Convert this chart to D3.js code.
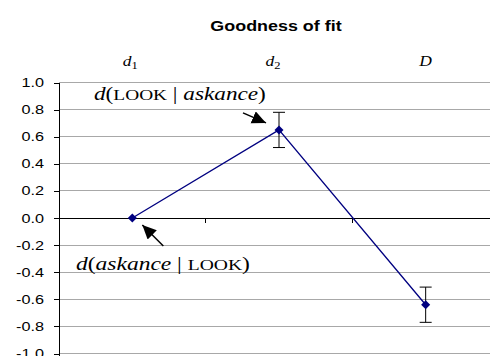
<!DOCTYPE html>
<html><head><meta charset="utf-8">
<script src="https://cdn.jsdelivr.net/npm/d3@7"></script>
<style>html,body{margin:0;padding:0;background:#fff;}svg{display:block;}</style>
</head><body>
<svg id="c" width="490" height="356"></svg>
<script>
const categories = ["d1", "d2", "D"];
const values = [0.0, 0.65, -0.64];
const errors = [0, 0.13, 0.13];
const yTicks = [-1.0, -0.8, -0.6, -0.4, -0.2, 0.0, 0.2, 0.4, 0.6, 0.8, 1.0];
const yTickLabels = ["-1.0", "-0.8", "-0.6", "-0.4", "-0.2", "0.0", "0.2", "0.4", "0.6", "0.8", "1.0"];
const title = "Goodness of fit";

(function () {
const W = 490, H = 356;
const svg = d3.select("#c");
const pLeft = 59, pRight = 499, pTop = 82.5, pBottom = 353.5;
const x = d3.scaleBand().domain(categories).range([pLeft, pRight]).paddingInner(0).paddingOuter(0);
const y = d3.scaleLinear().domain([-1, 1]).range([pBottom, pTop]);
const cx = c => x(c) + x.bandwidth() / 2;
const SX = 1.3;

function stext(parent, px, py, anchor, scale) {
  const g = parent.append("g").attr("transform", `translate(${px},${py})`);
  return g.append("text").attr("text-anchor", anchor).attr("transform", `scale(${scale},1)`);
}
function fitWidth(t, target) {
  const w = t.node().getBBox().width;
  t.attr("transform", `scale(${target / w},1)`);
}

// gridlines
svg.append("g").selectAll("line").data(yTicks.filter(v => v !== 0)).join("line")
  .attr("x1", pLeft).attr("x2", W).attr("y1", d => y(d)).attr("y2", d => y(d))
  .attr("stroke", "#a8a8a8").attr("stroke-width", 1).attr("shape-rendering", "crispEdges");

// y axis
const yAxis = d3.axisLeft(y).tickValues(yTicks).tickSize(5).tickSizeOuter(0).tickFormat("");
const ya = svg.append("g").attr("transform", `translate(${pLeft},0)`).call(yAxis);
ya.select(".domain").attr("stroke", "#000").attr("d", `M0,${pTop}V${H}`);
ya.selectAll(".tick line").attr("stroke", "#000");
ya.attr("shape-rendering", "crispEdges");
yTicks.forEach((v, i) => {
  stext(svg, 44, y(v) + 4.5, "end", SX)
    .attr("font-family", "Liberation Sans, Arial, sans-serif").attr("font-size", 12.5)
    .attr("fill", "#000").text(yTickLabels[i]);
});

// zero line with category ticks
svg.append("line").attr("x1", pLeft).attr("x2", W).attr("y1", y(0)).attr("y2", y(0))
  .attr("stroke", "#000").attr("stroke-width", 1).attr("shape-rendering", "crispEdges");
svg.append("g").selectAll("line").data(categories.slice(1)).join("line")
  .attr("x1", d => x(d)).attr("x2", d => x(d)).attr("y1", y(0)).attr("y2", y(0) + 5)
  .attr("stroke", "#000").attr("shape-rendering", "crispEdges");

// title
stext(svg, 276, 31, "middle", 1.28)
  .attr("font-family", "Liberation Sans, Arial, sans-serif").attr("font-size", 14)
  .attr("font-weight", "bold").text(title);

// category labels at top
const catDx = [-2, -6, 0];
categories.forEach((c, i) => {
  const t = stext(svg, cx(c) + catDx[i], 66, "middle", 1.25)
    .attr("font-family", "Liberation Serif, Times New Roman, serif").attr("font-size", 14);
  t.append("tspan").attr("font-style", "italic").text(c[0]);
  if (c.length > 1) t.append("tspan").attr("font-size", 10).attr("dy", 3).text(c.slice(1));
});

// error bars
const eb = svg.append("g").attr("stroke", "#000").attr("stroke-width", 1);
categories.forEach((c, i) => {
  if (!errors[i]) return;
  const X = cx(c), y1 = y(values[i] + errors[i]), y2 = y(values[i] - errors[i]);
  eb.append("line").attr("x1", X).attr("x2", X).attr("y1", y1).attr("y2", y2);
  eb.append("line").attr("x1", X - 6).attr("x2", X + 6).attr("y1", y1).attr("y2", y1);
  eb.append("line").attr("x1", X - 6).attr("x2", X + 6).attr("y1", y2).attr("y2", y2);
});

// series line
const line = d3.line().x((d, i) => cx(categories[i])).y(d => y(d));
svg.append("path").datum(values).attr("d", line).attr("fill", "none")
  .attr("stroke", "#000080").attr("stroke-width", 1.3);
svg.append("g").selectAll("path").data(values).join("path")
  .attr("d", d3.symbol(d3.symbolDiamond2, 52)())
  .attr("transform", (d, i) => `translate(${cx(categories[i])},${y(d)})`)
  .attr("fill", "#000080");

// arrow marker
svg.append("defs").append("marker").attr("id", "ah").attr("markerUnits", "userSpaceOnUse")
  .attr("markerWidth", 16).attr("markerHeight", 14).attr("refX", 14).attr("refY", 6.5)
  .attr("orient", "auto").append("path").attr("d", "M0,0L14,6.5L0,13Z").attr("fill", "#000");

// annotation 1
const p2x = cx(categories[1]), p2y = y(values[1]);
svg.append("line").attr("x1", p2x - 36).attr("y1", p2y - 17).attr("x2", p2x - 13).attr("y2", p2y - 7)
  .attr("stroke", "#000").attr("stroke-width", 1.5).attr("marker-end", "url(#ah)");
const a1 = stext(svg, 94, 100, "start", 1).attr("font-family", "Liberation Serif, Times New Roman, serif").attr("font-size", 18);
a1.append("tspan").attr("font-style", "italic").text("d");
a1.append("tspan").text("(");
a1.append("tspan").attr("font-size", 15).text("LOOK");
a1.append("tspan").text(" | ");
a1.append("tspan").attr("font-style", "italic").text("askance");
a1.append("tspan").text(")");
fitWidth(a1, 172);

// annotation 2
const p1x = cx(categories[0]), p1y = y(values[0]);
svg.append("line").attr("x1", p1x + 31).attr("y1", p1y + 28).attr("x2", p1x + 10).attr("y2", p1y + 7)
  .attr("stroke", "#000").attr("stroke-width", 1.5).attr("marker-end", "url(#ah)");
const a2 = stext(svg, 76, 270, "start", 1).attr("font-family", "Liberation Serif, Times New Roman, serif").attr("font-size", 18);
a2.append("tspan").attr("font-style", "italic").text("d");
a2.append("tspan").text("(");
a2.append("tspan").attr("font-style", "italic").text("askance");
a2.append("tspan").text(" | ");
a2.append("tspan").attr("font-size", 15).text("LOOK");
a2.append("tspan").text(")");
fitWidth(a2, 174);
})();
</script>
</body></html>
